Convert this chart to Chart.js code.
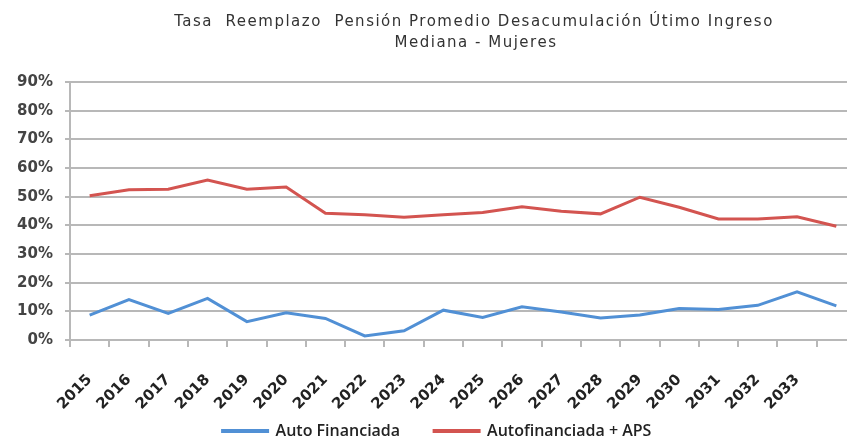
<!DOCTYPE html>
<html>
<head>
<meta charset="utf-8">
<script src="https://cdn.jsdelivr.net/npm/chart.js@4"></script>
<style>
  body { margin: 0; overflow: hidden; background: #fff; }
  #wrap { width: 874px; height: 438px; }
</style>
</head>
<body>
<div id="wrap"><canvas id="tasaChart" width="874" height="438"></canvas></div>
<script>
// Datos (en %)
const years = ["2015", "2016", "2017", "2018", "2019", "2020", "2021", "2022", "2023", "2024",
               "2025", "2026", "2027", "2028", "2029", "2030", "2031", "2032", "2033", ""];
const autoFinanciada = [8.7, 14.1, 9.3, 14.5, 6.4, 9.5, 7.5, 1.4, 3.2, 10.4,
                        7.9, 11.6, 9.8, 7.7, 8.7, 11.0, 10.6, 12.1, 16.8, 11.9];
const autoMasAPS = [50.3, 52.4, 52.6, 55.8, 52.6, 53.4, 44.2, 43.7, 42.8, 43.7,
                    44.5, 46.5, 44.9, 44.0, 49.8, 46.3, 42.2, 42.2, 43.0, 39.7];
const titleLines = ["Tasa  Reemplazo  Pensión Promedio Desacumulación Útimo Ingreso", "Mediana - Mujeres"];

// titulo dibujado a mano, centrado sobre el area del grafico
const titlePlugin = {
    id: "tituloCentrado",
    afterDraw(chart) {
        const c = chart.ctx;
        c.save();
        c.fillStyle = "#333";
        c.font = "15px 'DejaVu Sans'";
        c.letterSpacing = "1.5px";
        c.textAlign = "center";
        c.textBaseline = "middle";
        c.fillText(titleLines[0], 474, 22);
        c.fillText(titleLines[1], 476, 43);
        c.restore();
    }
};

// alarga la caja de la leyenda hacia arriba y la corre un poco a la derecha
const legendUp = {
    id: "leyendaArriba",
    afterLayout(chart) {
        chart.legend.top -= 25;
        chart.legend.left += 18;
    }
};

const ctx = document.getElementById("tasaChart").getContext("2d");
new Chart(ctx, {
    type: "line",
    data: {
        labels: years,
        datasets: [
            {
                label: "Auto Financiada",
                data: autoFinanciada,
                borderColor: "#5190d5",
                backgroundColor: "#5190d5",
                borderWidth: 3,
                pointRadius: 0,
                tension: 0
            },
            {
                label: "Autofinanciada + APS",
                data: autoMasAPS,
                borderColor: "#d35450",
                backgroundColor: "#d35450",
                borderWidth: 3,
                pointRadius: 0,
                tension: 0
            }
        ]
    },
    options: {
        responsive: false,
        animation: false,
        layout: { padding: { top: 82, right: 18, left: 0, bottom: 0 } },
        plugins: {
            title: { display: false },
            tooltip: { enabled: false },
            legend: {
                position: "bottom",
                maxHeight: 24,
                labels: {
                    boxWidth: 45,
                    boxHeight: 1,
                    padding: 34,
                    color: "#222",
                    font: { family: "'Open Sans'", size: 16, weight: "600" }
                }
            }
        },
        scales: {
            x: {
                offset: true,
                afterFit(scale) {
                    scale.height = 74;
                    scale.paddingLeft = 0;
                    scale.paddingRight = 0;
                },
                grid: { offset: true, drawOnChartArea: false, drawTicks: true, tickLength: 7, color: "#b8b8b8", lineWidth: 2 },
                border: { color: "#b8b8b8", width: 2 },
                ticks: {
                    autoSkip: false,
                    maxRotation: 45,
                    minRotation: 45,
                    padding: 24,
                    color: "#222",
                    font: { family: "'DejaVu Sans'", size: 15, weight: "bold" }
                }
            },
            y: {
                min: 0,
                max: 90,
                afterFit(scale) { scale.width = 70; },
                grid: { color: "#b8b8b8", lineWidth: 2, tickLength: 5 },
                border: { color: "#b8b8b8", width: 2 },
                ticks: {
                    stepSize: 10,
                    color: "#444",
                    padding: 12,
                    font: { family: "'DejaVu Sans'", size: 15, weight: "bold" },
                    callback: v => v + "%"
                }
            }
        }
    },
    plugins: [titlePlugin, legendUp]
});
</script>
</body>
</html>
